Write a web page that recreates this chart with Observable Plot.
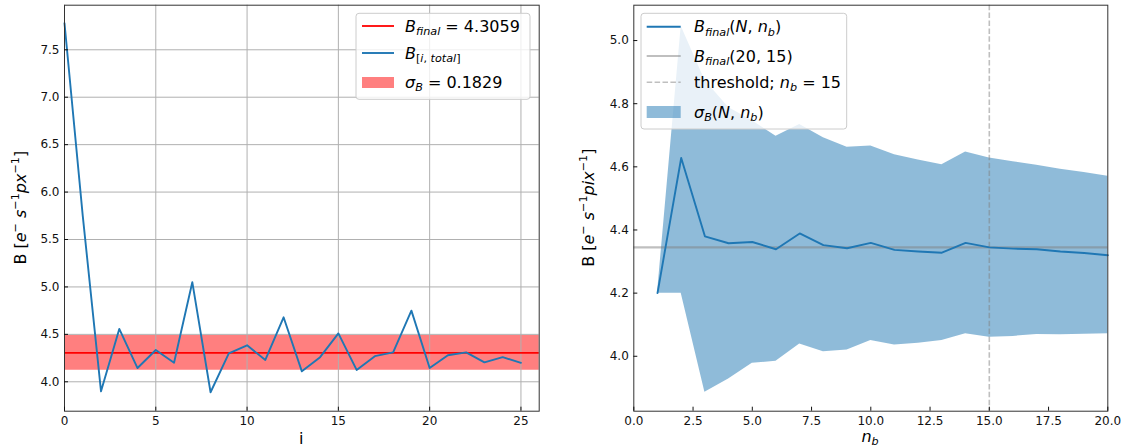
<!DOCTYPE html>
<html><head><meta charset="utf-8">
<script src="https://cdn.jsdelivr.net/npm/d3@7"></script>
<script src="https://cdn.jsdelivr.net/npm/@observablehq/plot@0.6"></script>
<style>
body{margin:0;background:#fff;}
#wrap{position:relative;width:1125px;height:447px;overflow:hidden;}
#wrap svg{position:absolute;top:0;}
text{white-space:pre;}
</style></head><body><div id="wrap"></div>
<script>
// ---------- Left panel data ----------
const iIndex = [0,1,2,3,4,5,6,7,8,9,10,11,12,13,14,15,16,17,18,19,20,21,22,23,24,25];
const bTotal = [7.78,5.75,3.90,4.557,4.145,4.335,4.20,5.05,3.89,4.30,4.385,4.23,4.68,4.11,4.26,4.51,4.125,4.27,4.31,4.75,4.145,4.28,4.31,4.205,4.26,4.20];
const bFinal = 4.3059;
const sigmaB = 0.1829;
const iTicks = [0,5,10,15,20,25];
const yTicksLeft = [4.0,4.5,5.0,5.5,6.0,6.5,7.0,7.5];
const xDomainLeft = [0, 26];
const yDomainLeft = [3.69, 7.97];

// ---------- Right panel data ----------
const nb = [1,2,3,4,5,6,7,8,9,10,11,12,13,14,15,16,17,18,19,20];
const bMean = [4.20,4.628,4.38,4.358,4.362,4.339,4.389,4.352,4.342,4.359,4.337,4.332,4.328,4.359,4.345,4.341,4.339,4.332,4.327,4.32];
const bandLow = [4.20,4.20,3.886,3.928,3.978,3.984,4.039,4.014,4.02,4.05,4.036,4.041,4.05,4.071,4.06,4.063,4.069,4.068,4.07,4.071];
const bandHigh = [4.20,5.045,4.874,4.788,4.746,4.697,4.734,4.692,4.662,4.666,4.638,4.622,4.607,4.647,4.628,4.616,4.605,4.592,4.582,4.570];
const bRef = 4.345;
const threshold = 15;
const nbTicks = [0,2.5,5,7.5,10,12.5,15,17.5,20];
const yTicksRight = [4.0,4.2,4.4,4.6,4.8,5.0];
const xDomainRight = [0, 20];
const yDomainRight = [3.826, 5.112];

const BLUE = "#1f77b4";
const FONT = "DejaVu Sans";
const fmt1 = d3.format(".1f");

const leftRows = iIndex.map((i, k) => ({i, b: bTotal[k]}));
const rightRows = nb.map((n, k) => ({n, m: bMean[k], lo: bandLow[k], hi: bandHigh[k]}));

const wrap = document.getElementById("wrap");

const left = Plot.plot({
  width: 560, height: 447,
  marginLeft: 64, marginRight: 21.3, marginTop: 4.7, marginBottom: 36.3,
  style: {fontFamily: FONT, fontSize: "12px", background: "transparent", color: "#111"},
  x: {domain: xDomainLeft},
  y: {domain: yDomainLeft},
  marks: [
    Plot.areaY(xDomainLeft, {x: d => d, y1: bFinal - sigmaB, y2: bFinal + sigmaB, fill: "red", fillOpacity: 0.5}),
    Plot.gridX(iTicks, {stroke: "#b0b0b0", strokeOpacity: 1, strokeWidth: 1}),
    Plot.gridY(yTicksLeft, {stroke: "#b0b0b0", strokeOpacity: 1, strokeWidth: 1}),
    Plot.ruleY([bFinal], {stroke: "red", strokeWidth: 1.8}),
    Plot.line(leftRows, {x: "i", y: "b", stroke: BLUE, strokeWidth: 1.9}),
    Plot.frame({stroke: "#333", strokeWidth: 1}),
    Plot.axisX(iTicks, {tickSize: -4, tickPadding: 9, label: null, fontSize: 12}),
    Plot.axisY(yTicksLeft, {tickSize: -4, tickPadding: 9, tickFormat: fmt1, label: null, fontSize: 12})
  ]
});
left.style.left = "0px";
wrap.appendChild(left);

const right = Plot.plot({
  width: 565, height: 447,
  marginLeft: 73.3, marginRight: 17.7, marginTop: 4.7, marginBottom: 36.3,
  style: {fontFamily: FONT, fontSize: "12px", background: "transparent", color: "#111"},
  x: {domain: xDomainRight},
  y: {domain: yDomainRight},
  marks: [
    Plot.areaY(rightRows, {x: "n", y1: "lo", y2: "hi", fill: BLUE, fillOpacity: 0.5}),
    Plot.ruleY([bRef], {stroke: "gray", strokeOpacity: 0.5, strokeWidth: 2.2}),
    Plot.ruleX([threshold], {stroke: "gray", strokeOpacity: 0.5, strokeWidth: 1.6, strokeDasharray: "5.5,2.4"}),
    Plot.line(rightRows, {x: "n", y: "m", stroke: BLUE, strokeWidth: 1.9}),
    Plot.frame({stroke: "#333", strokeWidth: 1}),
    Plot.axisX(nbTicks, {tickSize: -4, tickPadding: 9, tickFormat: fmt1, label: null, fontSize: 12}),
    Plot.axisY(yTicksRight, {tickSize: -4, tickPadding: 9, tickFormat: fmt1, label: null, fontSize: 12})
  ]
});
right.style.left = "560px";
wrap.appendChild(right);

// ---------- rich text helper ----------
function rich(parent, x, y, parts, size, attrs = {}) {
  const t = parent.append("text").attr("x", x).attr("y", y)
    .attr("font-family", FONT).attr("font-size", size).attr("fill", "#000")
    .attr("text-anchor", "start");
  for (const [k, v] of Object.entries(attrs)) t.attr(k, v);
  let cur = 0;
  for (const p of parts) {
    const target = p.sub ? size * 0.2 : p.sup ? -size * 0.42 : 0;
    const ts = t.append("tspan").text(p.t).attr("dy", target - cur);
    cur = target;
    if (p.sub || p.sup) ts.attr("font-size", size * 0.7);
    if (p.i) ts.attr("font-style", "italic");
  }
  return t;
}

// ---------- axis labels ----------
const L = d3.select(left), R = d3.select(right);
rich(L, 301.3, 444, [{t: "i"}], 16, {"text-anchor": "middle"});
rich(R, 310, 442, [{t: "n", i: 1}, {t: "b", i: 1, sub: 1}], 16, {"text-anchor": "middle"});
const ylabParts = (px) => [
  {t: "B ["}, {t: "e", i: 1}, {t: "\u2212", sup: 1}, {t: " s", i: 1}, {t: "\u22121", sup: 1},
  {t: px, i: 1}, {t: "\u22121", sup: 1}, {t: "]"}
];
rich(L, 0, 0, ylabParts("px"), 16, {"text-anchor": "middle", transform: "translate(25.5,207.7) rotate(-90)"});
rich(R, 0, 0, ylabParts("pix"), 16, {"text-anchor": "middle", transform: "translate(34.2,207.7) rotate(-90)"});

// ---------- legends ----------
function legendBox(sel, x, y, w, h) {
  sel.append("rect").attr("x", x).attr("y", y).attr("width", w).attr("height", h)
    .attr("rx", 3).attr("fill", "white").attr("fill-opacity", 0.8)
    .attr("stroke", "#cccccc").attr("stroke-width", 1);
}
const LS = 16;
// left legend
legendBox(L, 356, 13.3, 174, 86);
L.append("line").attr("x1", 362).attr("x2", 394).attr("y1", 26).attr("y2", 26).attr("stroke", "red").attr("stroke-width", 1.8);
rich(L, 405, 31.6, [{t: "B", i: 1}, {t: "final", i: 1, sub: 1}, {t: " = 4.3059"}], LS);
L.append("line").attr("x1", 362).attr("x2", 394).attr("y1", 53).attr("y2", 53).attr("stroke", BLUE).attr("stroke-width", 1.9);
rich(L, 405, 58.6, [{t: "B", i: 1}, {t: "[", sub: 1}, {t: "i", i: 1, sub: 1}, {t: ", ", sub: 1}, {t: "total", i: 1, sub: 1}, {t: "]", sub: 1}], LS);
L.append("rect").attr("x", 362).attr("y", 77).attr("width", 32).attr("height", 11).attr("fill", "red").attr("fill-opacity", 0.5);
rich(L, 405, 88, [{t: "\u03c3", i: 1}, {t: "B", i: 1, sub: 1}, {t: " = 0.1829"}], LS);

// right legend
legendBox(R, 81, 13.3, 205.7, 115.7);
R.append("line").attr("x1", 86.7).attr("x2", 120.7).attr("y1", 26.7).attr("y2", 26.7).attr("stroke", BLUE).attr("stroke-width", 1.9);
rich(R, 134, 32.3, [{t: "B", i: 1}, {t: "final", i: 1, sub: 1}, {t: "("}, {t: "N", i: 1}, {t: ", "}, {t: "n", i: 1}, {t: "b", i: 1, sub: 1}, {t: ")"}], LS);
R.append("line").attr("x1", 86.7).attr("x2", 120.7).attr("y1", 56).attr("y2", 56).attr("stroke", "gray").attr("stroke-opacity", 0.5).attr("stroke-width", 2.2);
rich(R, 134, 61.6, [{t: "B", i: 1}, {t: "final", i: 1, sub: 1}, {t: "(20, 15)"}], LS);
R.append("line").attr("x1", 86.7).attr("x2", 120.7).attr("y1", 82.3).attr("y2", 82.3).attr("stroke", "gray").attr("stroke-opacity", 0.5).attr("stroke-width", 1.6).attr("stroke-dasharray", "5.5,2.4");
rich(R, 134, 87.9, [{t: "threshold; "}, {t: "n", i: 1}, {t: "b", i: 1, sub: 1}, {t: " = 15"}], LS);
R.append("rect").attr("x", 86.7).attr("y", 106).attr("width", 34).attr("height", 12).attr("fill", BLUE).attr("fill-opacity", 0.5);
rich(R, 134, 117.6, [{t: "\u03c3", i: 1}, {t: "B", i: 1, sub: 1}, {t: "("}, {t: "N", i: 1}, {t: ", "}, {t: "n", i: 1}, {t: "b", i: 1, sub: 1}, {t: ")"}], LS);
</script></body></html>
